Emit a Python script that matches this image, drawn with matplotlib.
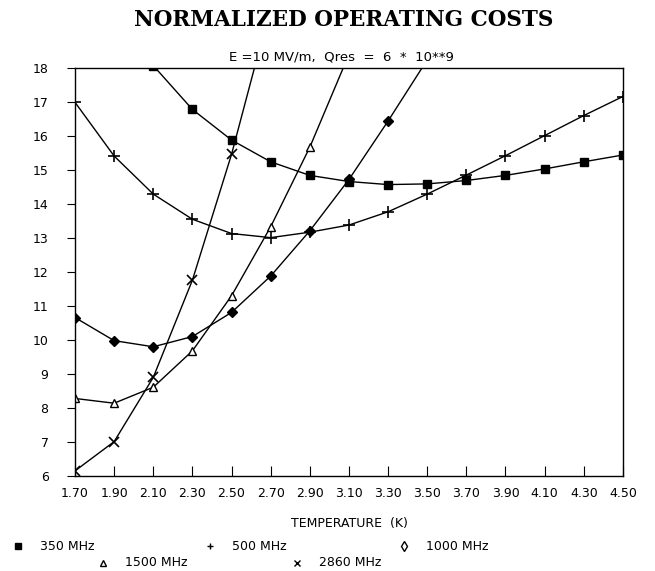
import numpy as np
import matplotlib
matplotlib.use('Agg')
import matplotlib.pyplot as plt

# temperatures (K)
temps = [1.70, 1.90, 2.10, 2.30, 2.50, 2.70, 2.90, 3.10, 3.30, 3.50, 3.70, 3.90, 4.10, 4.30, 4.50]
nan = np.nan

# normalized operating costs (points above 18 are off-scale)
mhz350 = [nan, nan, 18.07, 16.78, 15.88, 15.24, 14.84, 14.66, 14.57, 14.59, 14.69, 14.84, 15.03, 15.24, 15.44]
mhz500 = [16.99, 15.41, 14.29, 13.55, 13.13, 13.01, 13.17, 13.38, 13.77, 14.29, 14.85, 15.42, 16.01, 16.60, 17.16]
mhz1000 = [10.66, 9.98, 9.80, 10.10, 10.81, 11.88, 13.21, 14.72, 16.44, 18.24, nan, nan, nan, nan, nan]
mhz1500 = [8.28, 8.14, 8.61, 9.68, 11.30, 13.33, 15.67, 18.40, nan, nan, nan, nan, nan, nan, nan]
mhz2860 = [6.15, 7.01, 8.90, 11.76, 15.46, 19.80, nan, nan, nan, nan, nan, nan, nan, nan, nan]

labels = ['350 MHz', '500 MHz', '1000 MHz', '1500 MHz', '2860 MHz']

fig = plt.figure(figsize=(6.55, 5.71), dpi=100)
ax = fig.add_axes([0.1145, 0.1664, 0.8365, 0.7146])

ax.plot(temps, mhz350, color='black', lw=1.0, marker='s', ms=6, mfc='black')
ax.plot(temps, mhz500, color='black', lw=1.0, marker='+', ms=8, mew=1.2)
ax.plot(temps, mhz1000, color='black', lw=1.0, marker='D', ms=5, mfc='black')
ax.plot(temps, mhz1500, color='black', lw=1.0, marker='^', ms=6, mfc='white', mew=1.0)
ax.plot(temps, mhz2860, color='black', lw=1.0, marker='x', ms=7, mew=1.2)

ax.set_xlim(1.70, 4.50)
ax.set_ylim(6, 18)
ax.set_xticks(temps)
ax.set_xticklabels(['%.2f' % t for t in temps], fontsize=9, fontweight='medium')
ax.set_yticks(range(6, 19))
ax.set_yticklabels([str(v) for v in range(6, 19)], fontsize=9, fontweight='medium')
ax.tick_params(axis='x', direction='in', length=7, pad=8)
ax.tick_params(axis='y', direction='out', length=6, pad=13)
for s in ax.spines.values():
    s.set_linewidth(1.0)

ax.set_xlabel('TEMPERATURE  (K)', fontsize=9, labelpad=12)

fig.text(0.525, 0.965, 'NORMALIZED OPERATING COSTS', ha='center', va='center',
         fontsize=15.5, fontweight='bold', family='DejaVu Serif')
fig.text(0.522, 0.9, 'E =10 MV/m,  Qres  =  6  *  10**9', ha='center', va='center',
         fontsize=9.5)

# legend drawn in pixel coords of the figure
lax = fig.add_axes([0, 0, 1, 1], zorder=-1)
lax.set_xlim(0, 655)
lax.set_ylim(571, 0)
lax.axis('off')
leg = [
    ('s', 18, 546, 'black', 5),
    ('+', 210, 546, 'black', 5),
    ('d', 404, 546, 'white', 5),
    ('^', 103, 563, 'white', 5),
    ('x', 297, 563, 'black', 5),
]
for (m, x, y, fc, ms), lab in zip(leg, labels):
    lax.plot([x], [y], marker=m, ms=ms, color='black', mfc=fc, mew=1.0, ls='none')
    lax.text(x + 22, y, lab, fontsize=9, va='center', ha='left')

fig.savefig('out.png', dpi=100)
